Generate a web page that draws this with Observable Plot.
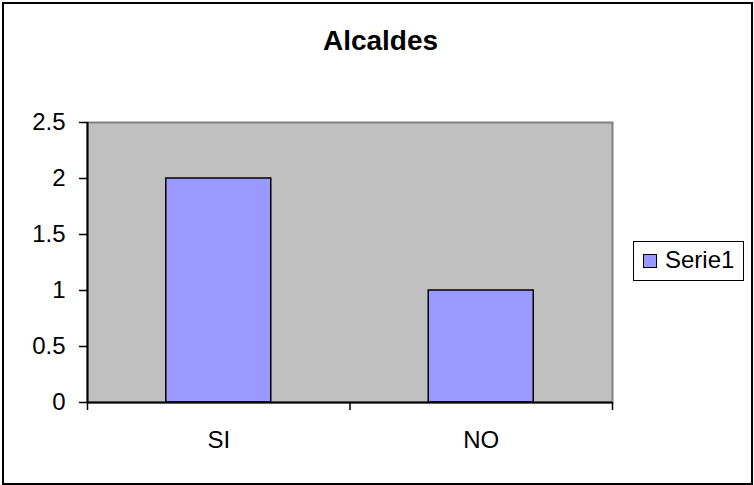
<!DOCTYPE html>
<html>
<head>
<meta charset="utf-8">
<script src="https://cdn.jsdelivr.net/npm/d3@7"></script>
<script src="https://cdn.jsdelivr.net/npm/@observablehq/plot@0.6"></script>
<style>
  html, body { margin: 0; padding: 0; background: white; }
  #wrap { position: relative; width: 754px; height: 485px; overflow: hidden; font-family: "Liberation Sans", Arial, sans-serif; }
  #wrap svg { position: absolute; left: 0; top: 0; }
  #border { position: absolute; left: 2px; top: 2px; width: 751px; height: 483px; box-sizing: border-box; border: 2px solid black; }
  #title { position: absolute; left: 380.5px; top: 27px; transform: translateX(-50%); font-size: 28px; font-weight: bold; line-height: 28px; white-space: nowrap; color: black; }
  #legend { position: absolute; left: 633px; top: 241px; width: 111px; height: 40px; box-sizing: border-box; border: 1.5px solid black; background: white; }
  #legend .sw { position: absolute; left: 9px; top: 12px; width: 14px; height: 14px; box-sizing: border-box; border: 1px solid black; background: #9999ff; }
  #legend .lb { position: absolute; left: 31px; top: 6px; font-size: 24px; line-height: 24px; white-space: nowrap; color: black; }
</style>
</head>
<body>
<div id="wrap"></div>
<script>
const categories = ["SI", "NO"];
const values = [2, 1];
const yTicks = [0, 0.5, 1, 1.5, 2, 2.5];
const seriesName = "Serie1";
const chartTitle = "Alcaldes";

const data = categories.map((c, i) => ({category: c, index: i, value: values[i]}));

const plot = Plot.plot({
  width: 754,
  height: 485,
  marginLeft: 87,
  marginRight: 142,
  marginTop: 122,
  marginBottom: 83,
  style: {fontFamily: "'Liberation Sans', Arial, sans-serif", fontSize: "24px", color: "black", background: "white"},
  x: {domain: [0, categories.length]},
  y: {domain: [0, 2.5]},
  marks: [
    Plot.frame({fill: "#c0c0c0", stroke: "#808080", strokeWidth: 2}),
    Plot.rectY(data, {x1: d => d.index + 0.3, x2: d => d.index + 0.7, y: "value", fill: "#9999ff", stroke: "black", strokeWidth: 1.5}),
    Plot.ruleY([0], {stroke: "black", strokeWidth: 2}),
    Plot.ruleX([0], {stroke: "black", strokeWidth: 2}),
    Plot.axisY({ticks: yTicks, tickSize: 8, tickPadding: 14, tickFormat: d => String(d), label: null, strokeWidth: 1.5}),
    Plot.axisX({ticks: d3.range(categories.length + 1), tickSize: 8, tickFormat: () => "", label: null, strokeWidth: 1.5}),
    Plot.axisX({ticks: categories.map((c, i) => i + 0.5), tickSize: 0, tickPadding: 28, tickFormat: d => categories[Math.floor(d)], label: null})
  ]
});

const wrap = document.getElementById("wrap");
wrap.appendChild(plot);

const border = document.createElement("div");
border.id = "border";
wrap.appendChild(border);

const title = document.createElement("div");
title.id = "title";
title.textContent = chartTitle;
wrap.appendChild(title);

const legend = document.createElement("div");
legend.id = "legend";
const sw = document.createElement("div");
sw.className = "sw";
const lb = document.createElement("div");
lb.className = "lb";
lb.textContent = seriesName;
legend.appendChild(sw);
legend.appendChild(lb);
wrap.appendChild(legend);
</script>
</body>
</html>
